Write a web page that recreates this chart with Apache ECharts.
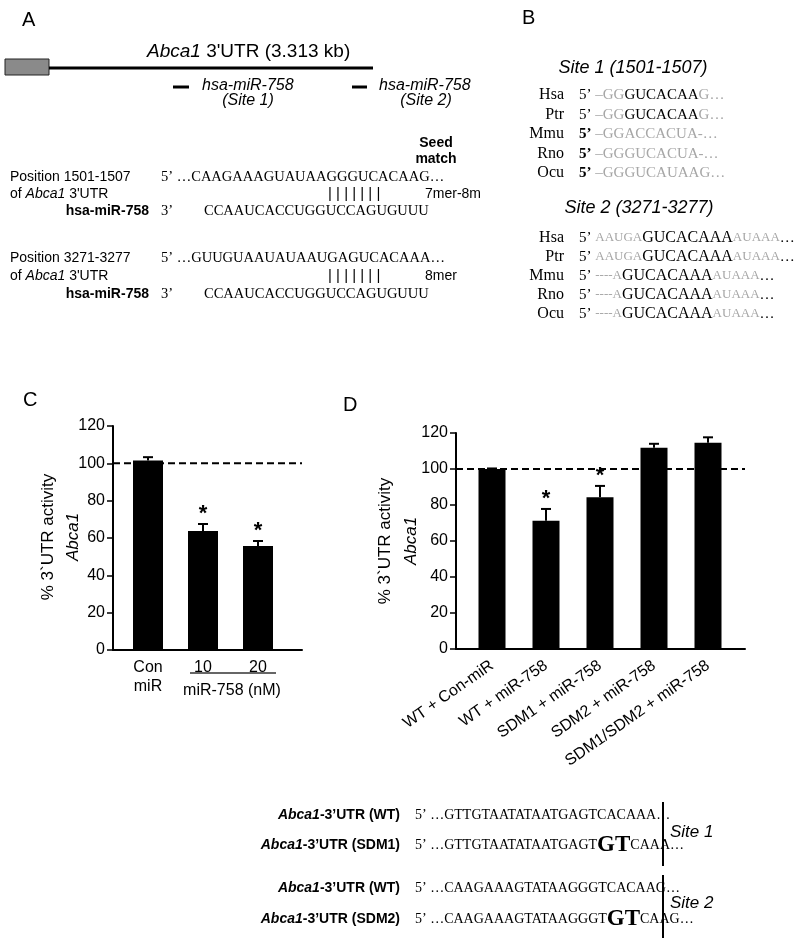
<!DOCTYPE html>
<html><head><meta charset="utf-8">
<script src="https://cdn.jsdelivr.net/npm/echarts/dist/echarts.min.js"></script>
<style>html,body{margin:0;padding:0;background:#fff}#c{width:800px;height:944px}</style>
</head><body><div id="c"></div>
<script>
// ---- data ----
const yTicks = [0, 20, 40, 60, 80, 100, 120];
const catsC = ['Con\nmiR', '10', '20'];
const valsC = [101.5, 63.7, 55.7];
const errC = [1.8, 3.8, 2.7];
const sigC = [false, true, true];
const catsD = ['WT + Con-miR', 'WT + miR-758', 'SDM1 + miR-758', 'SDM2 + miR-758', 'SDM1/SDM2 + miR-758'];
const valsD = [100, 71.3, 84.3, 111.8, 114.6];
const errD = [0.3, 6.5, 6.3, 2.2, 3.0];
const sigD = [false, true, true, false, false];
const refLine = 100;

const SANS = '"Liberation Sans", Arial, sans-serif';
const SERIF = '"Liberation Serif", "Times New Roman", serif';
const GRAY = '#a6a6a6';

const chart = echarts.init(document.getElementById('c'), null, {renderer: 'canvas'});

function T(x, y, text, o) {
  o = o || {};
  const el = {type: 'text', x: x, y: y, silent: true, z: 10,
    style: {text: text, fill: '#000', fontFamily: o.family || SANS, fontSize: o.size || 14,
      fontWeight: o.weight || 'normal', fontStyle: o.style || 'normal',
      align: o.align || 'left', verticalAlign: 'middle', rich: o.rich}};
  if (o.rot) el.rotation = o.rot;
  return el;
}
function L(x1, y1, x2, y2, w, c) {
  return {type: 'line', silent: true, z: 10, shape: {x1, y1, x2, y2}, style: {stroke: c || '#000', lineWidth: w || 1}};
}
function richSans(size) {
  return {i: {fontFamily: SANS, fontSize: size, fontStyle: 'italic', fill: '#000'},
          n: {fontFamily: SANS, fontSize: size, fill: '#000'},
          bi: {fontFamily: SANS, fontSize: size, fontStyle: 'italic', fontWeight: 'bold', fill: '#000'},
          b: {fontFamily: SANS, fontSize: size, fontWeight: 'bold', fill: '#000'}};
}
function richSeq(size, grayColor) {
  return {k: {fontFamily: SERIF, fontSize: size, fill: '#000'},
          kb: {fontFamily: SERIF, fontSize: size, fill: '#000', fontWeight: 'bold'},
          g: {fontFamily: SERIF, fontSize: size, fill: grayColor || GRAY},
          g2: {fontFamily: SERIF, fontSize: size - 2, fill: grayColor || GRAY},
          k2: {fontFamily: SERIF, fontSize: size + 1, fill: '#000'},
          big: {fontFamily: SERIF, fontSize: 23, fontWeight: 'bold', fill: '#000'}};
}

const g = [];
// Panel letters
g.push(T(22, 20, 'A', {size: 20}));
g.push(T(522, 18, 'B', {size: 20}));
g.push(T(23, 400, 'C', {size: 20}));
g.push(T(343, 405, 'D', {size: 20}));

// Panel A - gene diagram
g.push({type: 'rect', silent: true, shape: {x: 5, y: 59, width: 44, height: 16}, style: {fill: '#8a8a8a', stroke: '#222', lineWidth: 1}});
g.push(L(49, 68, 373, 68, 3));
g.push(T(147, 52, '{i|Abca1}{n| 3\'UTR (3.313 kb)}', {size: 19, rich: richSans(19)}));
g.push(L(173, 87, 189, 87, 3));
g.push(L(352, 87, 367, 87, 3));
g.push(T(202, 86, 'hsa-miR-758', {size: 16, style: 'italic'}));
g.push(T(248, 101, '(Site 1)', {size: 16, style: 'italic', align: 'center'}));
g.push(T(379, 86, 'hsa-miR-758', {size: 16, style: 'italic'}));
g.push(T(426, 101, '(Site 2)', {size: 16, style: 'italic', align: 'center'}));

// Panel A - sequence alignment
g.push(T(436, 143, 'Seed', {size: 14, weight: 'bold', align: 'center'}));
g.push(T(436, 159, 'match', {size: 14, weight: 'bold', align: 'center'}));
const rowsA = [[177, 17, 'Position 1501-1507', '5\u2019 \u2026CAAGAAAGUAUAAGGGUCACAAG\u2026', '7mer-8m'],
               [258, 18, 'Position 3271-3277', '5\u2019 \u2026GUUGUAAUAUAAUGAGUCACAAA\u2026', '8mer']];
rowsA.forEach(r => {
  const y = r[0], dy = r[1];
  g.push(T(10, y, r[2], {size: 14}));
  g.push(T(10, y + dy, '{n|of }{i|Abca1}{n| 3\'UTR}', {size: 14, rich: richSans(14)}));
  g.push(T(149, y + 2 * dy, 'hsa-miR-758', {size: 14, weight: 'bold', align: 'right'}));
  g.push(T(161, y, r[3], {size: 14.5, family: SERIF}));
  g.push(T(328, y + dy, '| | | | | | |', {size: 15}));
  g.push(T(425, y + dy, r[4], {size: 14}));
  g.push(T(161, y + 2 * dy, '3\u2019', {size: 14.5, family: SERIF}));
  g.push(T(204, y + 2 * dy, 'CCAAUCACCUGGUCCAGUGUUU', {size: 14.5, family: SERIF}));
});

// Panel B
g.push(T(633, 68, 'Site 1 (1501-1507)', {size: 18, style: 'italic', align: 'center'}));
const spB = ['Hsa', 'Ptr', 'Mmu', 'Rno', 'Ocu'];
const site1 = [
  '{k|5\u2019 }{g|\u2013GG}{k|GUCACAA}{g|G\u2026}',
  '{k|5\u2019 }{g|\u2013GG}{k|GUCACAA}{g|G\u2026}',
  '{kb|5\u2019 }{g|\u2013GGACCACUA-\u2026}',
  '{kb|5\u2019 }{g|\u2013GGGUCACUA-\u2026}',
  '{kb|5\u2019 }{g|\u2013GGGUCAUAAG\u2026}'];
const yS1 = [95, 115, 134, 154, 173];
spB.forEach((s, i) => {
  g.push(T(564, yS1[i], s, {size: 16, family: SERIF, align: 'right'}));
  g.push(T(579, yS1[i], site1[i], {size: 15, family: SERIF, rich: richSeq(15)}));
});
g.push(T(639, 208, 'Site 2 (3271-3277)', {size: 18, style: 'italic', align: 'center'}));
const site2 = [
  '{k|5\u2019 }{g2|AAUGA}{k2|GUCACAAA}{g2|AUAAA}{k|\u2026}',
  '{k|5\u2019 }{g2|AAUGA}{k2|GUCACAAA}{g2|AUAAA}{k|\u2026}',
  '{k|5\u2019 }{g2|----A}{k2|GUCACAAA}{g2|AUAAA}{k|\u2026}',
  '{k|5\u2019 }{g2|----A}{k2|GUCACAAA}{g2|AUAAA}{k|\u2026}',
  '{k|5\u2019 }{g2|----A}{k2|GUCACAAA}{g2|AUAAA}{k|\u2026}'];
const yS2 = [238, 257, 276, 295, 314];
spB.forEach((s, i) => {
  g.push(T(564, yS2[i], s, {size: 16, family: SERIF, align: 'right'}));
  g.push(T(579, yS2[i], site2[i], {size: 15, family: SERIF, rich: richSeq(15)}));
});

// Axis names C and D
g.push(T(48, 537, '% 3`UTR activity', {size: 17, align: 'center', rot: Math.PI / 2}));
g.push(T(73, 537, 'Abca1', {size: 17, style: 'italic', align: 'center', rot: Math.PI / 2}));
g.push(T(385, 541, '% 3`UTR activity', {size: 17, align: 'center', rot: Math.PI / 2}));
g.push(T(411, 541, 'Abca1', {size: 17, style: 'italic', align: 'center', rot: Math.PI / 2}));
// C group label
g.push(L(190, 673, 276, 673, 1.5, '#333'));
g.push(T(232, 691, 'miR-758 (nM)', {size: 16, align: 'center'}));

// Bottom mutant sequences
const mut = [
  [815, '{bi|Abca1}{b|-3\u2019UTR (WT)}', '{k|5\u2019 \u2026GTTGTAATATAATGAGTCACAAA\u2026}'],
  [845, '{bi|Abca1}{b|-3\u2019UTR (SDM1)}', '{k|5\u2019 \u2026GTTGTAATATAATGAGT}{big|GT}{k|CAAA\u2026}'],
  [888, '{bi|Abca1}{b|-3\u2019UTR (WT)}', '{k|5\u2019 \u2026CAAGAAAGTATAAGGGTCACAAG\u2026}'],
  [919, '{bi|Abca1}{b|-3\u2019UTR (SDM2)}', '{k|5\u2019 \u2026CAAGAAAGTATAAGGGT}{big|GT}{k|CAAG\u2026}']];
mut.forEach(m => {
  g.push(T(400, m[0], m[1], {size: 14, align: 'right', rich: richSans(14)}));
  g.push(T(415, m[0], m[2], {size: 14, family: SERIF, rich: richSeq(14)}));
});
g.push(L(663, 802, 663, 866, 2));
g.push(L(663, 875, 663, 938, 2));
g.push(T(670, 832, 'Site 1', {size: 17, style: 'italic'}));
g.push(T(670, 903, 'Site 2', {size: 17, style: 'italic'}));

// ---- axes / grids ----
const axisCol = '#000';
function frameX(gi) {
  return {type: 'value', gridIndex: gi, min: 0, max: 1, axisLine: {show: true, lineStyle: {color: axisCol, width: 2}},
    axisTick: {show: false}, axisLabel: {show: false}, splitLine: {show: false}};
}
function frameY(gi) {
  return {type: 'value', gridIndex: gi, min: yTicks[0], max: yTicks[yTicks.length - 1], interval: yTicks[1] - yTicks[0],
    axisLine: {show: true, lineStyle: {color: axisCol, width: 2}},
    axisTick: {show: true, length: 6, lineStyle: {color: axisCol, width: 1.5}},
    axisLabel: {show: true, margin: 8, color: '#000', fontSize: 16, fontFamily: SANS},
    splitLine: {show: false}};
}
function hiddenY(gi) {
  return {type: 'value', gridIndex: gi, min: yTicks[0], max: yTicks[yTicks.length - 1], show: false, splitLine: {show: false}};
}
function errSeries(xi, yi, vals, errs, sig, capW) {
  return {type: 'custom', xAxisIndex: xi, yAxisIndex: yi, z: 5, silent: true,
    data: vals.map((v, i) => [i, v, v + errs[i], sig[i] ? 1 : 0]),
    renderItem: function (params, api) {
      const i = api.value(0);
      const base = api.coord([i, api.value(1)]);
      const top = api.coord([i, api.value(2)]);
      const ch = [
        {type: 'line', shape: {x1: base[0], y1: base[1], x2: top[0], y2: top[1]}, style: {stroke: '#000', lineWidth: 2}},
        {type: 'line', shape: {x1: top[0] - capW / 2, y1: top[1], x2: top[0] + capW / 2, y2: top[1]}, style: {stroke: '#000', lineWidth: 2}}];
      if (api.value(3)) {
        ch.push({type: 'text', style: {text: '*', x: top[0], y: top[1] + 1, align: 'center', verticalAlign: 'bottom',
          fontFamily: SANS, fontSize: 22, fontWeight: 'bold', fill: '#000'}});
      }
      return {type: 'group', children: ch};
    }};
}
function refSeries(xi, yi) {
  return {type: 'line', xAxisIndex: xi, yAxisIndex: yi, silent: true, symbol: 'none', z: 1,
    data: [[0, refLine], [1, refLine]], lineStyle: {color: '#000', width: 2, type: [7, 4]}};
}

const option = {
  animation: false,
  backgroundColor: '#fff',
  grid: [
    {left: 113, top: 426, width: 189, height: 224, outerBoundsMode: 'none', containLabel: false},
    {left: 120.5, top: 426, width: 165, height: 224, outerBoundsMode: 'none', containLabel: false},
    {left: 456, top: 433, width: 289, height: 216, outerBoundsMode: 'none', containLabel: false},
    {left: 465, top: 433, width: 270, height: 216, outerBoundsMode: 'none', containLabel: false}
  ],
  xAxis: [
    frameX(0),
    {type: 'category', gridIndex: 1, data: catsC, axisLine: {show: false}, axisTick: {show: false},
      axisLabel: {interval: 0, margin: 8, color: '#000', fontSize: 16, fontFamily: SANS, lineHeight: 19}},
    frameX(2),
    {type: 'category', gridIndex: 3, data: catsD, axisLine: {show: false}, axisTick: {show: false},
      axisLabel: {interval: 0, rotate: 35, margin: 15, color: '#000', fontSize: 16, fontFamily: SANS}}
  ],
  yAxis: [frameY(0), hiddenY(1), frameY(2), hiddenY(3)],
  series: [
    refSeries(0, 0),
    {type: 'bar', xAxisIndex: 1, yAxisIndex: 1, data: valsC, barWidth: 30, itemStyle: {color: '#000'}, silent: true, z: 3},
    errSeries(1, 1, valsC, errC, sigC, 10),
    refSeries(2, 2),
    {type: 'bar', xAxisIndex: 3, yAxisIndex: 3, data: valsD, barWidth: 27, itemStyle: {color: '#000'}, silent: true, z: 3},
    errSeries(3, 3, valsD, errD, sigD, 10)
  ],
  graphic: g
};
chart.setOption(option);
</script>
</body></html>
